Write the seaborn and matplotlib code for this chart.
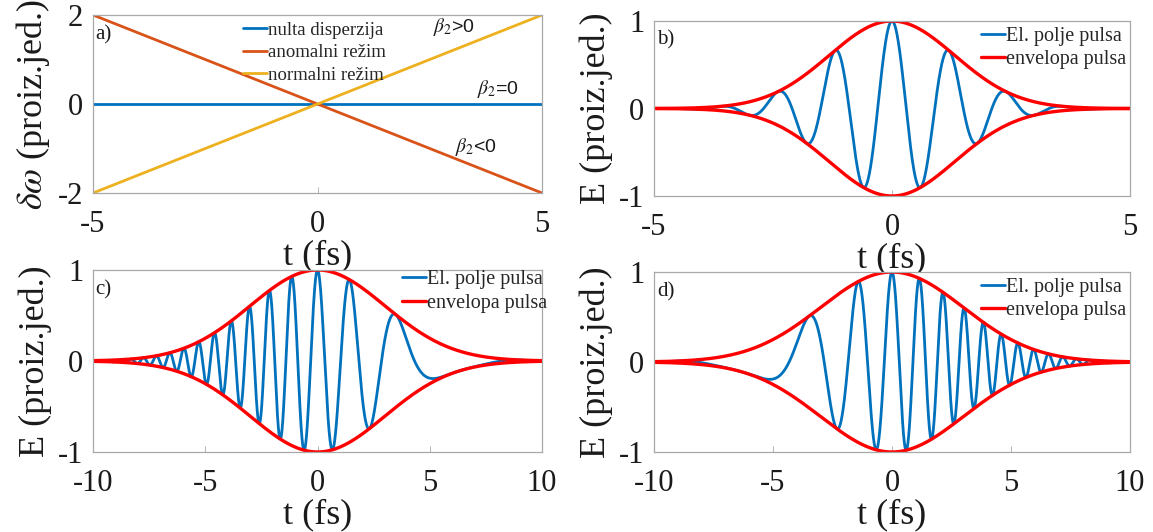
import numpy as np
import pandas as pd
import matplotlib
matplotlib.use("Agg")
import matplotlib.pyplot as plt
import seaborn as sns

# ---------------- data ----------------
# panel a: frequency deviation vs time (straight lines)
t_a = [-5, 5]
nulta = [0, 0]
anomalni = [2, -2]
normalni = [-2, 2]
labels_a = ["nulta disperzija", "anomalni režim", "normalni režim"]

# panel b: unchirped Gaussian pulse
t_b_range = (-5, 5)
sigma_b = 1.32        # envelope width (fs)
omega_b = 5.24        # carrier angular frequency (rad/fs)

# panels c, d: chirped Gaussian pulses
t_cd_range = (-10, 10)
sigma_cd = 3.0        # envelope width (fs)
omega_cd = 5.0        # carrier angular frequency (rad/fs)
chirp_c = -0.40       # quadratic phase coefficient, panel c
chirp_d = 0.40        # quadratic phase coefficient, panel d

field_label = "El. polje pulsa"
env_label = "envelopa pulsa"

# ---------------- style ----------------
sns.set_theme(style="white")
plt.rcParams["font.family"] = ["Liberation Serif", "DejaVu Serif"]
plt.rcParams["mathtext.fontset"] = "stix"

BLUE = "#0072BD"
ORANGE = "#D95319"
YELLOW = "#EDB120"
RED = "#FF0000"
SPINE = "#A8A8A8"
TXT = "#1a1a1a"

TICK_FS = 22
LAB_FS = 26

fig = plt.figure(figsize=(11.53, 5.32), dpi=100)
ax_a = fig.add_axes([0.0807, 0.6372, 0.3894, 0.3346])
ax_b = fig.add_axes([0.5672, 0.6316, 0.4128, 0.3289])
ax_c = fig.add_axes([0.0807, 0.1504, 0.3894, 0.3421])
ax_d = fig.add_axes([0.5672, 0.1504, 0.4128, 0.3383])


def style_axes(ax, xlim, ylim, xticks, yticks, ylabel, panel):
    ax.set_xlim(*xlim)
    ax.set_ylim(*ylim)
    ax.set_xticks(xticks)
    ax.set_yticks(yticks)
    ax.set_xticklabels([str(v) for v in xticks])
    ax.set_yticklabels([str(v) for v in yticks])
    for s in ax.spines.values():
        s.set_color(SPINE)
        s.set_linewidth(0.9)
        s.set_visible(True)
    ax.tick_params(axis="both", direction="in", length=4, width=0.6,
                   color=SPINE, labelsize=TICK_FS, labelcolor=TXT,
                   bottom=True, left=True)
    ax.tick_params(axis="x", pad=12.5)
    ax.tick_params(axis="y", pad=7)
    ax.set_xlabel("t (fs)", fontsize=LAB_FS, color=TXT, labelpad=0)
    ax.set_ylabel(ylabel, fontsize=LAB_FS, color=TXT, labelpad=4)
    ax.text(0.006, 0.89, panel, transform=ax.transAxes, fontsize=15,
            ha="left", va="center", color=TXT)


# ---------------- panel a ----------------
df_a = pd.DataFrame({
    "t": t_a * 3,
    "dw": nulta + anomalni + normalni,
    "serija": [labels_a[0]] * 2 + [labels_a[1]] * 2 + [labels_a[2]] * 2,
})
sns.lineplot(data=df_a, x="t", y="dw", hue="serija", hue_order=labels_a,
             palette=[BLUE, ORANGE, YELLOW], linewidth=2.0, ax=ax_a)
style_axes(ax_a, (-5, 5), (-2, 2), [-5, 0, 5], [-2, 0, 2],
           r"$\delta\omega$ (proiz.jed.)", "a)")
ax_a.legend(loc="upper left", bbox_to_anchor=(0.325, 0.985), frameon=False,
            fontsize=13.5, handlelength=1.3, handletextpad=0.05,
            labelspacing=0.3, borderpad=0.2, borderaxespad=0)
ann_kw = dict(fontsize=14, family="Liberation Sans", color=TXT,
              ha="left", va="center")
ax_a.text(2.57, 1.73, r"$\beta_2$>0", **ann_kw)
ax_a.text(3.55, 0.33, r"$\beta_2$=0", **ann_kw)
ax_a.text(3.06, -0.97, r"$\beta_2$<0", **ann_kw)


def pulse_panel(ax, t_range, sigma, omega, chirp, xticks, panel, leg_anchor):
    t = np.linspace(t_range[0], t_range[1], 4001)
    env = np.exp(-t ** 2 / (2 * sigma ** 2))
    field = env * np.cos(omega * t + chirp * t ** 2)
    sns.lineplot(x=t, y=field, color=BLUE, linewidth=2.0, label=field_label,
                 ax=ax, sort=False)
    sns.lineplot(x=t, y=env, color=RED, linewidth=2.4, label=env_label,
                 ax=ax, sort=False)
    sns.lineplot(x=t, y=-env, color=RED, linewidth=2.4, ax=ax, sort=False)
    style_axes(ax, t_range, (-1, 1), xticks, [-1, 0, 1],
               "E (proiz.jed.)", panel)
    h, l = ax.get_legend_handles_labels()
    keep = [(hh, ll) for hh, ll in zip(h, l) if ll in (field_label, env_label)]
    ax.legend([k[0] for k in keep], [k[1] for k in keep], loc="upper right",
              bbox_to_anchor=leg_anchor, frameon=False, fontsize=14.5,
              handlelength=1.2, handletextpad=0.05, labelspacing=0.2,
              borderpad=0.2, borderaxespad=0)


pulse_panel(ax_b, t_b_range, sigma_b, omega_b, 0.0, [-5, 0, 5], "b)",
            (1.0, 0.99))
pulse_panel(ax_c, t_cd_range, sigma_cd, omega_cd, chirp_c,
            [-10, -5, 0, 5, 10], "c)", (1.02, 1.02))
pulse_panel(ax_d, t_cd_range, sigma_cd, omega_cd, chirp_d,
            [-10, -5, 0, 5, 10], "d)", (1.0, 0.99))

fig.savefig("out.png", dpi=100)
